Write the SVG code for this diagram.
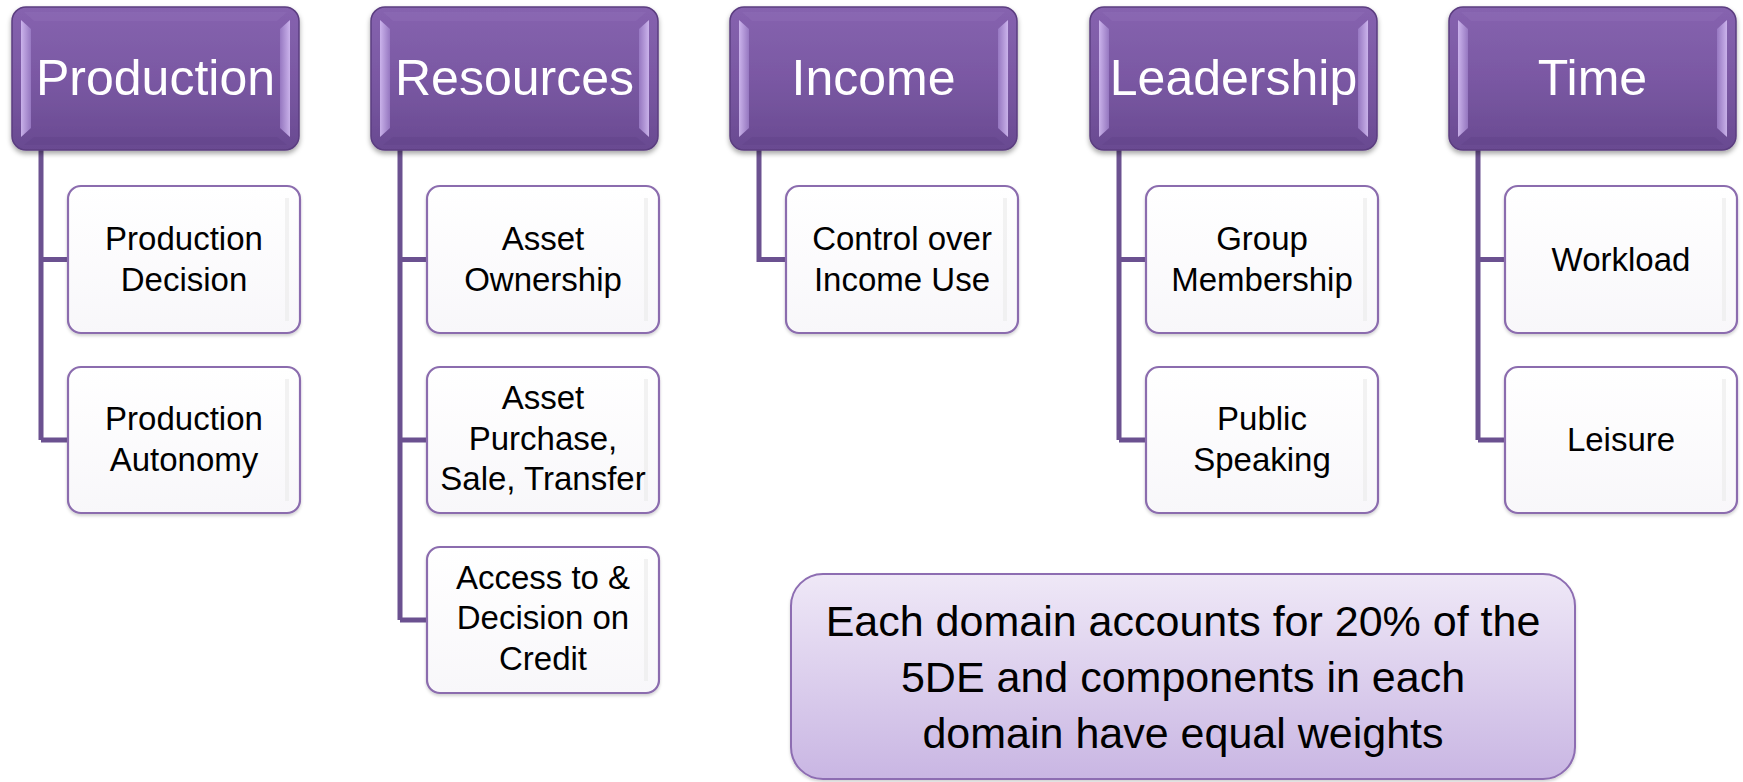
<svg xmlns="http://www.w3.org/2000/svg" width="1743" height="782" viewBox="0 0 1743 782">
<defs>
<linearGradient id="hg" x1="0" y1="0" x2="0" y2="1">
<stop offset="0" stop-color="#8663af"/>
<stop offset="0.5" stop-color="#7a58a3"/>
<stop offset="1" stop-color="#694a91"/>
</linearGradient>
<linearGradient id="bevL" x1="0" y1="0" x2="1" y2="0">
<stop offset="0" stop-color="#d8c2f7"/>
<stop offset="1" stop-color="#9b7dc6"/>
</linearGradient>
<linearGradient id="bevR" x1="1" y1="0" x2="0" y2="0">
<stop offset="0" stop-color="#d8c2f7"/>
<stop offset="1" stop-color="#9b7dc6"/>
</linearGradient>
<linearGradient id="cg" x1="0" y1="0" x2="0" y2="1">
<stop offset="0" stop-color="#ffffff"/>
<stop offset="1" stop-color="#f8f7fa"/>
</linearGradient>
<linearGradient id="sg" x1="0" y1="0" x2="0" y2="1">
<stop offset="0" stop-color="#efe8f7"/>
<stop offset="1" stop-color="#c9b6e3"/>
</linearGradient>
<filter id="sh" x="-10%" y="-10%" width="120%" height="130%">
<feDropShadow dx="0" dy="3" stdDeviation="2.5" flood-color="#000" flood-opacity="0.35"/>
</filter>
<filter id="sh2" x="-10%" y="-10%" width="120%" height="130%">
<feDropShadow dx="0" dy="2" stdDeviation="1.5" flood-color="#000" flood-opacity="0.18"/>
</filter>
</defs>
<style>
.hdr{fill:url(#hg);stroke:#5b3e80;stroke-width:1.5}
.bl{fill:url(#bevL);opacity:0.85}
.br{fill:url(#bevR);opacity:0.85}
.bevB{fill:#5d4085;opacity:0.3}
.bevT{fill:#9474bd;opacity:0.3}
.ht{font-family:"Liberation Sans",Arial,sans-serif;font-size:50px;fill:#ffffff;text-anchor:middle}
.child{fill:url(#cg);stroke:#8b6cae;stroke-width:2.2}
.inner{fill:#ececec;opacity:0.7}
.ct{font-family:"Liberation Sans",Arial,sans-serif;font-size:33px;fill:#000000;text-anchor:middle}
.con{fill:none;stroke:#6b5190;stroke-width:5}
.sum{fill:url(#sg);stroke:#8d6db2;stroke-width:2}
.st{font-family:"Liberation Sans",Arial,sans-serif;font-size:43px;fill:#000000;text-anchor:middle}
</style>
<rect width="1743" height="782" fill="#ffffff"/>

<g id="connectors">
<path class="con" d="M41 150 V440 M41 259.5 H68 M41 440 H68"/>
<path class="con" d="M400 150 V620 M400 259.5 H427 M400 440 H427 M400 620 H427"/>
<path class="con" d="M759 150 V259.5 H786"/>
<path class="con" d="M1119 150 V440 M1119 259.5 H1146 M1119 440 H1146"/>
<path class="con" d="M1478 150 V440 M1478 259.5 H1505 M1478 440 H1505"/>
</g>

<g id="h-production">
<rect class="hdr" filter="url(#sh)" x="12" y="7" width="287" height="143" rx="14"/>
<polygon class="bevT" points="24,12 287,12 277,21 34,21"/>
<polygon class="bevB" points="34,137 277,137 287,145 24,145"/>
<polygon class="bl" points="21,20 31,29 31,128 21,137"/>
<polygon class="br" points="290,20 280,29 280,128 290,137"/>
<text class="ht" x="155.5" y="95">Production</text>
</g>
<g id="h-resources">
<rect class="hdr" filter="url(#sh)" x="371" y="7" width="287" height="143" rx="14"/>
<polygon class="bevT" points="383,12 646,12 636,21 393,21"/>
<polygon class="bevB" points="393,137 636,137 646,145 383,145"/>
<polygon class="bl" points="380,20 390,29 390,128 380,137"/>
<polygon class="br" points="649,20 639,29 639,128 649,137"/>
<text class="ht" x="514.5" y="95">Resources</text>
</g>
<g id="h-income">
<rect class="hdr" filter="url(#sh)" x="730" y="7" width="287" height="143" rx="14"/>
<polygon class="bevT" points="742,12 1005,12 995,21 752,21"/>
<polygon class="bevB" points="752,137 995,137 1005,145 742,145"/>
<polygon class="bl" points="739,20 749,29 749,128 739,137"/>
<polygon class="br" points="1008,20 998,29 998,128 1008,137"/>
<text class="ht" x="873.5" y="95">Income</text>
</g>
<g id="h-leadership">
<rect class="hdr" filter="url(#sh)" x="1090" y="7" width="287" height="143" rx="14"/>
<polygon class="bevT" points="1102,12 1365,12 1355,21 1112,21"/>
<polygon class="bevB" points="1112,137 1355,137 1365,145 1102,145"/>
<polygon class="bl" points="1099,20 1109,29 1109,128 1099,137"/>
<polygon class="br" points="1368,20 1358,29 1358,128 1368,137"/>
<text class="ht" x="1233.5" y="95">Leadership</text>
</g>
<g id="h-time">
<rect class="hdr" filter="url(#sh)" x="1449" y="7" width="287" height="143" rx="14"/>
<polygon class="bevT" points="1461,12 1724,12 1714,21 1471,21"/>
<polygon class="bevB" points="1471,137 1714,137 1724,145 1461,145"/>
<polygon class="bl" points="1458,20 1468,29 1468,128 1458,137"/>
<polygon class="br" points="1727,20 1717,29 1717,128 1727,137"/>
<text class="ht" x="1592.5" y="95">Time</text>
</g>

<g id="c-production-decision">
<rect class="child" filter="url(#sh2)" x="68" y="186" width="232" height="147" rx="13"/>
<rect class="inner" x="285" y="198" width="4" height="123"/>
<text class="ct" x="184" y="250">Production</text>
<text class="ct" x="184" y="291">Decision</text>
</g>
<g id="c-production-autonomy">
<rect class="child" filter="url(#sh2)" x="68" y="367" width="232" height="146" rx="13"/>
<rect class="inner" x="285" y="379" width="4" height="122"/>
<text class="ct" x="184" y="430">Production</text>
<text class="ct" x="184" y="471">Autonomy</text>
</g>

<g id="c-asset-ownership">
<rect class="child" filter="url(#sh2)" x="427" y="186" width="232" height="147" rx="13"/>
<rect class="inner" x="644" y="198" width="4" height="123"/>
<text class="ct" x="543" y="250">Asset</text>
<text class="ct" x="543" y="291">Ownership</text>
</g>
<g id="c-asset-purchase">
<rect class="child" filter="url(#sh2)" x="427" y="367" width="232" height="146" rx="13"/>
<rect class="inner" x="644" y="379" width="4" height="122"/>
<text class="ct" x="543" y="409">Asset</text>
<text class="ct" x="543" y="450">Purchase,</text>
<text class="ct" x="543" y="490">Sale, Transfer</text>
</g>
<g id="c-access-credit">
<rect class="child" filter="url(#sh2)" x="427" y="547" width="232" height="146" rx="13"/>
<rect class="inner" x="644" y="559" width="4" height="122"/>
<text class="ct" x="543" y="589">Access to &amp;</text>
<text class="ct" x="543" y="629">Decision on</text>
<text class="ct" x="543" y="670">Credit</text>
</g>

<g id="c-control-income">
<rect class="child" filter="url(#sh2)" x="786" y="186" width="232" height="147" rx="13"/>
<rect class="inner" x="1003" y="198" width="4" height="123"/>
<text class="ct" x="902" y="250">Control over</text>
<text class="ct" x="902" y="291">Income Use</text>
</g>

<g id="c-group-membership">
<rect class="child" filter="url(#sh2)" x="1146" y="186" width="232" height="147" rx="13"/>
<rect class="inner" x="1363" y="198" width="4" height="123"/>
<text class="ct" x="1262" y="250">Group</text>
<text class="ct" x="1262" y="291">Membership</text>
</g>
<g id="c-public-speaking">
<rect class="child" filter="url(#sh2)" x="1146" y="367" width="232" height="146" rx="13"/>
<rect class="inner" x="1363" y="379" width="4" height="122"/>
<text class="ct" x="1262" y="430">Public</text>
<text class="ct" x="1262" y="471">Speaking</text>
</g>

<g id="c-workload">
<rect class="child" filter="url(#sh2)" x="1505" y="186" width="232" height="147" rx="13"/>
<rect class="inner" x="1722" y="198" width="4" height="123"/>
<text class="ct" x="1621" y="271">Workload</text>
</g>
<g id="c-leisure">
<rect class="child" filter="url(#sh2)" x="1505" y="367" width="232" height="146" rx="13"/>
<rect class="inner" x="1722" y="379" width="4" height="122"/>
<text class="ct" x="1621" y="451">Leisure</text>
</g>

<g id="summary">
<rect class="sum" filter="url(#sh2)" x="791" y="574" width="784" height="205" rx="32"/>
<text class="st" x="1183" y="636">Each domain accounts for 20% of the</text>
<text class="st" x="1183" y="692">5DE and components in each</text>
<text class="st" x="1183" y="748">domain have equal weights</text>
</g>
</svg>
